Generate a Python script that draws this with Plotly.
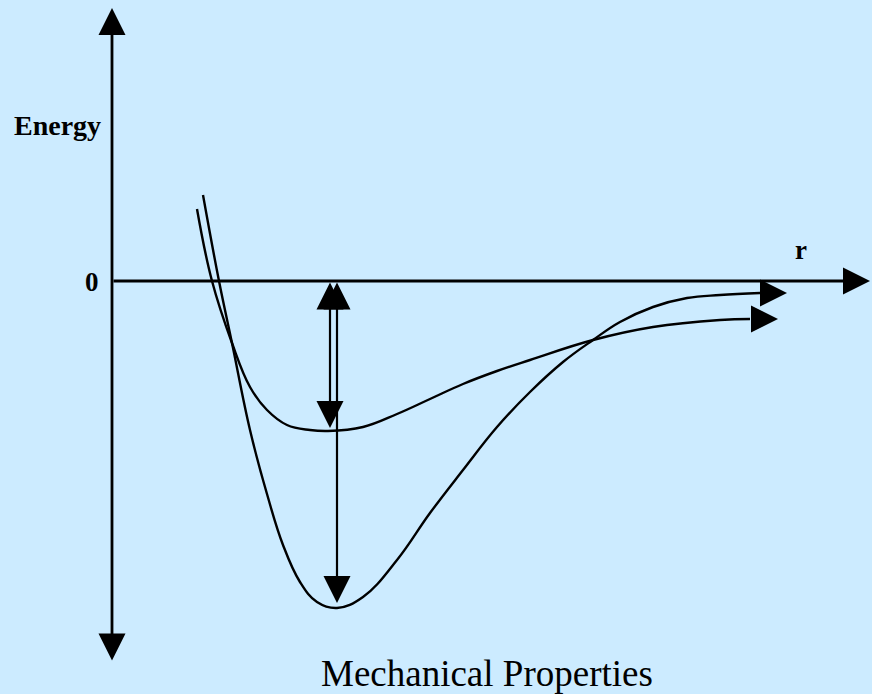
import plotly.graph_objects as go

# potential energy curves (r, energy)
shallow_r = [0.85, 1.00, 1.20, 1.38, 1.55, 1.75, 1.98, 2.16, 2.51, 2.85, 3.18, 3.51,
             3.85, 4.18, 4.81, 5.41, 6.08, 6.38]
shallow_e = [0.72, 0.00, -0.62, -1.06, -1.29, -1.44, -1.49, -1.50, -1.46, -1.33, -1.18, -1.03,
             -0.90, -0.79, -0.59, -0.46, -0.39, -0.38]
shallow_tip = (6.66, -0.38)

deep_r = [0.91, 1.07, 1.20, 1.38, 1.55, 1.71, 1.88, 2.05, 2.25, 2.51, 2.85, 3.18,
          3.51, 3.85, 4.18, 4.51, 4.81, 5.08, 5.41, 5.75, 6.08, 6.48]
deep_e = [0.86, 0.00, -0.62, -1.49, -2.13, -2.64, -3.01, -3.21, -3.27, -3.16, -2.79, -2.32,
          -1.89, -1.46, -1.11, -0.81, -0.59, -0.41, -0.26, -0.17, -0.14, -0.12]
deep_tip = (6.75, -0.12)

# well depth markers: (r, bottom of arrow)
depth_arrows = [(2.18, -1.47), (2.25, -3.22)]

# axis extents
energy_top, energy_bottom = 2.73, -3.81
r_end = 7.58

bg = "#ccebff"
font = "Liberation Serif"

fig = go.Figure()
for r, e in [(shallow_r, shallow_e), (deep_r, deep_e)]:
    fig.add_trace(go.Scatter(x=r, y=e, mode="lines",
                             line=dict(color="black", width=2.4, shape="spline", smoothing=1.15),
                             hoverinfo="skip", showlegend=False))


def arrow(x0, y0, x1, y1, width=2.2, both=False):
    head = 5.4 / width  # big filled heads like the sketch
    fig.add_annotation(x=x1, y=y1, ax=x0, ay=y0, xref="x", yref="y", axref="x", ayref="y",
                       text="", showarrow=True, arrowhead=2, arrowsize=head,
                       arrowwidth=width, arrowcolor="black",
                       arrowside="end+start" if both else "end",
                       startarrowhead=2, startarrowsize=head)


# axes
arrow(0, energy_bottom, 0, energy_top, width=2.8, both=True)
arrow(0, 0, r_end, 0, width=2.8)

# curve ends
arrow(shallow_r[-1], shallow_e[-1], *shallow_tip)
arrow(deep_r[-1], deep_e[-1], *deep_tip)

# depth arrows
for r, bottom in depth_arrows:
    arrow(r, 0, r, bottom, both=True)

fig.add_annotation(x=-0.545, y=1.56, text="<b>Energy</b>", showarrow=False,
                   font=dict(family=font, size=28, color="black"))
fig.add_annotation(x=-0.20, y=-0.01, text="<b>0</b>", showarrow=False,
                   font=dict(family=font, size=27, color="black"))
fig.add_annotation(x=6.89, y=0.31, text="<b>r</b>", showarrow=False,
                   font=dict(family=font, size=27, color="black"))
fig.add_annotation(x=3.75, y=-3.92, text="Mechanical Properties", showarrow=False,
                   font=dict(family=font, size=37, color="black"))

fig.update_layout(width=872, height=694, margin=dict(l=0, r=0, t=0, b=0),
                  paper_bgcolor=bg, plot_bgcolor=bg)
fig.update_xaxes(range=[-1.12, 7.60], visible=False)
fig.update_yaxes(range=[-4.13, 2.81], visible=False)

fig.write_html("out.html", config={"displayModeBar": False},
               post_script="document.body.style.margin='0';")
